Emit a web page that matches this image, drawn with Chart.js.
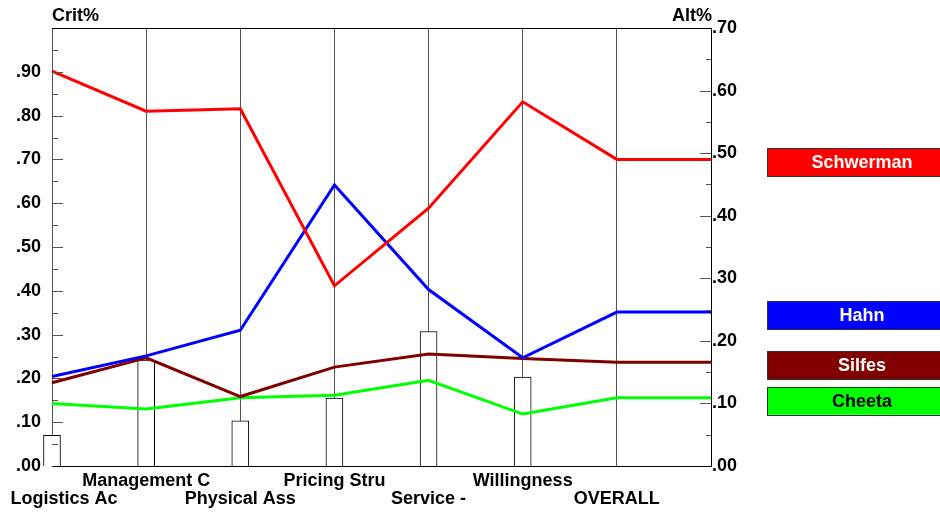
<!DOCTYPE html>
<html>
<head>
<meta charset="utf-8">
<script src="https://cdn.jsdelivr.net/npm/chart.js@4.4.1/dist/chart.umd.min.js"></script>
<style>
	html, body { margin: 0; padding: 0; background: #fff; }
	#wrap { width: 940px; height: 512px; position: relative; }
</style>
</head>
<body>
<div id="wrap"><canvas id="chart-crit-alt"></canvas></div>
<script>
// Chart data
const CATEGORIES = ["Logistics Ac", "Management C", "Physical Ass", "Pricing Stru", "Service -", "Willingness", "OVERALL", ""];
const CRIT_WEIGHTS = [0.070, 0.242, 0.103, 0.155, 0.307, 0.203, null, null];
const SCHWERMAN = [0.631, 0.567, 0.571, 0.288, 0.412, 0.582, 0.490, 0.490];
const HAHN = [0.143, 0.176, 0.217, 0.449, 0.282, 0.173, 0.246, 0.246];
const SILFES = [0.133, 0.173, 0.111, 0.158, 0.179, 0.172, 0.166, 0.166];
const CHEETA = [0.100, 0.091, 0.109, 0.113, 0.137, 0.083, 0.109, 0.109];

const FAMILY = "'Liberation Sans', Arial, sans-serif";
const FONT = "bold 18px " + FAMILY;
const fmt = (v) => v.toFixed(2).replace(/^0/, "");

const SERIES = [
	{ label: "Schwerman", data: SCHWERMAN, color: "#ff0000", text: "#ffffff" },
	{ label: "Hahn", data: HAHN, color: "#0000ff", text: "#ffffff" },
	{ label: "Silfes", data: SILFES, color: "#800000", text: "#ffffff" },
	{ label: "Cheeta", data: CHEETA, color: "#00ff00", text: "#000000" },
];

// Extra drawing: ticks inside the plot, titles, staggered labels, side legend
const decorPlugin = {
	id: "decor",
	afterDraw(chart) {
		const { ctx, chartArea: area, scales } = chart;
		const { x, y, y1 } = scales;
		ctx.save();

		// top border
		ctx.strokeStyle = "#000";
		ctx.lineWidth = 1;
		ctx.beginPath();
		ctx.moveTo(area.left, area.top + 0.5);
		ctx.lineTo(area.right, area.top + 0.5);
		ctx.stroke();

		// tick marks, left axis
		ctx.strokeStyle = "#555";
		for (let i = 1; i < 20; i++) {
			const py = Math.round(y.getPixelForValue(i * 0.05)) + 0.5;
			const len = i % 2 === 0 ? 11 : 6;
			ctx.beginPath();
			ctx.moveTo(area.left, py);
			ctx.lineTo(area.left + len, py);
			ctx.stroke();
		}
		// tick marks, right axis
		for (let i = 1; i < 14; i++) {
			const py = Math.round(y1.getPixelForValue(i * 0.05)) + 0.5;
			const len = i % 2 === 0 ? 11 : 5;
			ctx.beginPath();
			ctx.moveTo(area.right, py);
			ctx.lineTo(area.right - len, py);
			ctx.stroke();
		}

		ctx.font = FONT;
		ctx.fillStyle = "#000";
		ctx.textBaseline = "middle";

		// axis titles
		ctx.textAlign = "left";
		ctx.fillText("Crit%", area.left, 16);
		ctx.textAlign = "right";
		ctx.fillText("Alt%", area.right + 1, 16);

		// staggered category labels
		ctx.textAlign = "center";
		CATEGORIES.forEach((cat, i) => {
			if (!cat) return;
			let px = x.getPixelForValue(i);
			if (i === 0) px += 12;
			const py = i % 2 === 0 ? 499 : 481;
			ctx.fillText(cat, px, py);
		});

		// legend boxes next to each series' last value
		SERIES.forEach((s) => {
			const cy = y1.getPixelForValue(s.data[s.data.length - 1]) + 3;
			const bx = 767, bw = 200, bh = 28;
			ctx.fillStyle = s.color;
			ctx.fillRect(bx, cy - bh / 2, bw, bh);
			ctx.strokeStyle = "#333";
			ctx.strokeRect(bx + 0.5, Math.round(cy - bh / 2) + 0.5, bw, bh);
			ctx.fillStyle = s.text;
			ctx.textAlign = "center";
			ctx.fillText(s.label, 862, cy + 1);
		});

		ctx.restore();
	},
};

const TICK_FONT = { family: FAMILY, size: 18, weight: "bold" };

const CHART_CONFIG = {
	type: "bar",
	data: {
		labels: CATEGORIES,
		datasets: [
			...SERIES.map((s) => ({
				type: "line",
				label: s.label,
				data: s.data,
				yAxisID: "y1",
				borderColor: s.color,
				backgroundColor: s.color,
				borderWidth: 3,
				pointRadius: 0,
				tension: 0,
				order: 1,
			})),
			{
				type: "bar",
				label: "Crit%",
				data: CRIT_WEIGHTS,
				yAxisID: "y",
				backgroundColor: "#ffffff",
				borderColor: "#000000",
				borderWidth: 1,
				barThickness: 17,
				clip: false,
				order: 10,
			},
		],
	},
	options: {
		responsive: true,
		maintainAspectRatio: false,
		animation: false,
		layout: {
			padding: { top: 28, left: 0, right: 0, bottom: 0 },
		},
		scales: {
			x: {
				offset: false,
				grid: {
					display: true,
					offset: false,
					color: "#555",
					drawTicks: false,
				},
				border: { display: true, color: "#000" },
				ticks: { display: false },
				afterFit: (scale) => {
					scale.height = 46;
				},
			},
			y: {
				position: "left",
				min: 0,
				max: 1,
				grid: { display: false, drawTicks: false },
				border: { display: true, color: "#555" },
				ticks: {
					stepSize: 0.1,
					padding: 11,
					color: "#000",
					font: TICK_FONT,
					callback: (v) => (v >= 0.999 ? "" : fmt(v)),
				},
				afterFit: (scale) => {
					scale.width = 52;
				},
			},
			y1: {
				position: "right",
				min: 0,
				max: 0.7,
				grid: { display: false, drawTicks: false },
				border: { display: true, color: "#000" },
				ticks: {
					stepSize: 0.1,
					padding: 1,
					color: "#000",
					font: TICK_FONT,
					callback: (v) => fmt(v),
				},
				afterFit: (scale) => {
					scale.width = 229;
				},
			},
		},
		plugins: {
			legend: { display: false },
			tooltip: { enabled: false },
		},
	},
	plugins: [decorPlugin],
};

new Chart(document.getElementById("chart-crit-alt"), CHART_CONFIG);
</script>
</body>
</html>
